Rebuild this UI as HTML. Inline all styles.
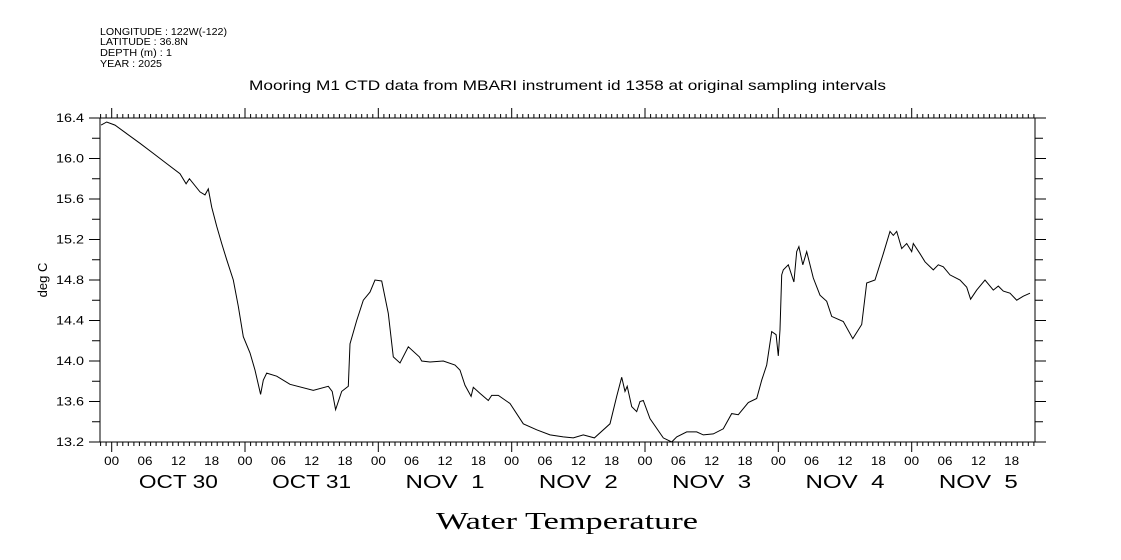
<!DOCTYPE html>
<html><head><meta charset="utf-8"><style>
body{margin:0;background:#fff;}
svg{display:block;font-family:"Liberation Sans",sans-serif;}
</style></head><body>
<svg id="chart" width="1121" height="560" viewBox="0 0 1121 560">
<g font-size="10" fill="#000">
<text x="100" y="35" textLength="127" lengthAdjust="spacingAndGlyphs">LONGITUDE : 122W(-122)</text>
<text x="100" y="45" textLength="88" lengthAdjust="spacingAndGlyphs">LATITUDE : 36.8N</text>
<text x="100" y="56" textLength="72" lengthAdjust="spacingAndGlyphs">DEPTH (m) : 1</text>
<text x="100" y="67" textLength="62" lengthAdjust="spacingAndGlyphs">YEAR : 2025</text>
</g>
<text x="249" y="90" textLength="637" lengthAdjust="spacingAndGlyphs" font-size="14">Mooring M1 CTD data from MBARI instrument id 1358 at original sampling intervals</text>
<text transform="translate(47,280) rotate(-90)" text-anchor="middle" font-size="13">deg C</text>
<text x="436" y="529" textLength="262" lengthAdjust="spacingAndGlyphs" font-size="24" font-family="Liberation Serif, serif">Water Temperature</text>
<rect x="100" y="118" width="935" height="324" fill="none" stroke="#000" stroke-width="1"/>
<g id="axes"></g>
<path id="series" fill="none" stroke="#000" stroke-width="1"/>
</svg>
<script>
const hours=[-1.9,-0.9,0.6,2.6,5.1,7.5,9.9,12.3,13.4,14.0,15.9,16.8,17.4,18.0,18.9,19.8,20.7,21.9,22.8,23.7,24.9,25.8,26.8,27.3,27.9,29.7,32.1,36.3,39.0,39.7,40.3,41.4,42.6,42.9,44.1,45.3,46.5,47.4,48.6,49.8,50.7,51.9,53.4,55.4,55.8,57.3,59.7,61.8,62.7,63.6,64.7,65.1,66.3,67.8,68.4,69.6,71.7,74.1,76.5,78.9,81.3,83.1,84.9,86.9,89.7,90.9,91.8,92.4,92.8,93.6,94.5,95.1,95.7,96.9,99.3,100.8,101.7,103.5,105.3,106.5,108.3,110.1,111.6,112.8,114.6,116.1,117.0,117.9,118.8,119.6,120.0,120.3,120.6,120.9,121.8,122.8,123.3,123.7,124.4,125.1,126.3,127.5,128.7,129.6,131.7,133.4,135.0,135.9,137.4,138.9,140.1,140.7,141.3,142.2,143.1,144.0,144.3,145.5,146.4,147.9,148.8,149.7,150.9,152.7,153.9,154.6,155.7,157.2,158.7,159.6,160.5,161.7,162.9,164.1,165.3];
const temps=[16.33,16.36,16.33,16.25,16.15,16.05,15.95,15.85,15.75,15.80,15.67,15.64,15.70,15.52,15.33,15.16,15.00,14.80,14.54,14.24,14.08,13.91,13.67,13.81,13.88,13.85,13.77,13.71,13.75,13.70,13.52,13.70,13.75,14.17,14.40,14.60,14.68,14.80,14.79,14.47,14.04,13.98,14.14,14.04,14.00,13.99,14.00,13.96,13.91,13.76,13.65,13.74,13.68,13.61,13.66,13.66,13.58,13.38,13.32,13.27,13.25,13.24,13.27,13.24,13.38,13.65,13.84,13.70,13.75,13.55,13.50,13.60,13.61,13.43,13.24,13.20,13.25,13.30,13.30,13.27,13.28,13.33,13.48,13.47,13.59,13.63,13.81,13.96,14.29,14.26,14.05,14.31,14.85,14.90,14.95,14.78,15.08,15.13,14.95,15.08,14.82,14.65,14.59,14.44,14.39,14.22,14.36,14.77,14.80,15.06,15.28,15.24,15.28,15.11,15.16,15.08,15.16,15.06,14.98,14.90,14.95,14.93,14.85,14.80,14.73,14.61,14.70,14.80,14.70,14.74,14.69,14.67,14.60,14.64,14.67];
const yTicks=[13.2,13.4,13.6,13.8,14.0,14.2,14.4,14.6,14.8,15.0,15.2,15.4,15.6,15.8,16.0,16.2,16.4];
const yLabels=["13.2","13.6","14.0","14.4","14.8","15.2","15.6","16.0","16.4"];
const hourLabels=["00","06","12","18"];
const dayLabels=["OCT 30","OCT 31","NOV  1","NOV  2","NOV  3","NOV  4","NOV  5"];
const X0=100,X1=1035,Y0=118,Y1=442,H0=-2.1,H1=166.2,V0=13.2,V1=16.4;
const sx=h=>X0+(h-H0)/(H1-H0)*(X1-X0);
const sy=v=>Y1-(v-V0)/(V1-V0)*(Y1-Y0);
const NS="http://www.w3.org/2000/svg";
const ax=document.getElementById('axes');
function mk(tag,attrs){const e=document.createElementNS(NS,tag);for(const k in attrs)e.setAttribute(k,attrs[k]);ax.appendChild(e);return e;}
let d='';
for(let h=Math.ceil(H0);h<=H1;h++){
  const x=sx(h).toFixed(1);const major=(h%24===0);const L=major?10:4;
  d+=`M${x} ${Y1}V${Y1+L}M${x} ${Y0}V${Y0-L}`;
}
yTicks.forEach((v,i)=>{const y=sy(v).toFixed(1);const L=(i%2===0)?11:8;d+=`M${X0} ${y}H${X0-L}M${X1} ${y}H${X1+L}`;});
const tk=mk('path',{d:d,stroke:'#000','stroke-width':1,fill:'none'});


yLabels.forEach(s=>{const t=mk('text',{x:56,y:sy(parseFloat(s))+4,'font-size':12,textLength:28,lengthAdjust:'spacingAndGlyphs'});t.textContent=s;

});
for(let dd=0;dd<7;dd++){
  hourLabels.forEach((s,i)=>{const h=dd*24+i*6;if(h>H1)return;const t=mk('text',{x:sx(h)-7.5,y:465,'font-size':12,textLength:15,lengthAdjust:'spacingAndGlyphs'});t.textContent=s;
  
  });
  const t=mk('text',{x:sx(dd*24+12)-39.5,y:488,'font-size':18,textLength:79,lengthAdjust:'spacingAndGlyphs'});t.textContent=dayLabels[dd];t.style.whiteSpace='pre';
  
  
}
document.getElementById('series').setAttribute('d',hours.map((h,i)=>(i?'L':'M')+sx(h).toFixed(1)+' '+sy(temps[i]).toFixed(1)).join(''));
</script>
</body></html>
